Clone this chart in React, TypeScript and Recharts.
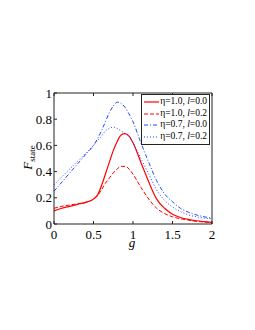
import React from 'react';
import { LineChart, Line, XAxis, YAxis, Legend } from 'recharts';

const gValues = [0, 0.1, 0.2, 0.3, 0.4, 0.5, 0.55, 0.6, 0.65, 0.7, 0.75, 0.8, 0.85, 0.9, 0.95, 1.0, 1.1, 1.2, 1.3, 1.4, 1.5, 1.6, 1.7, 1.8, 1.9, 2.0];

const eta10l00 = [0.1, 0.12, 0.135, 0.15, 0.165, 0.19, 0.22, 0.29, 0.38, 0.47, 0.56, 0.63, 0.68, 0.69, 0.67, 0.62, 0.47, 0.32, 0.19, 0.12, 0.075, 0.05, 0.035, 0.025, 0.018, 0.012];
const eta10l02 = [0.12, 0.135, 0.145, 0.155, 0.165, 0.19, 0.215, 0.26, 0.31, 0.35, 0.39, 0.42, 0.44, 0.44, 0.42, 0.38, 0.28, 0.19, 0.12, 0.08, 0.055, 0.04, 0.03, 0.02, 0.015, 0.01];
const eta07l00 = [0.25, 0.32, 0.39, 0.46, 0.53, 0.6, 0.65, 0.71, 0.78, 0.85, 0.9, 0.93, 0.92, 0.89, 0.84, 0.78, 0.62, 0.47, 0.33, 0.23, 0.17, 0.12, 0.09, 0.07, 0.055, 0.045];
const eta07l02 = [0.3, 0.36, 0.42, 0.48, 0.54, 0.6, 0.635, 0.67, 0.71, 0.73, 0.74, 0.73, 0.71, 0.69, 0.67, 0.62, 0.5, 0.38, 0.26, 0.18, 0.13, 0.095, 0.07, 0.055, 0.045, 0.04];

const xTicks = [0, 0.5, 1, 1.5, 2];
const yTicks = [0, 0.2, 0.4, 0.6, 0.8, 1];

const data = gValues.map((g, i) => ({
  g,
  a: eta10l00[i],
  b: eta10l02[i],
  c: eta07l00[i],
  d: eta07l02[i],
}));

const series = [
  { key: 'a', eta: '1.0', l: '0.0', color: '#ff0000', dash: undefined, width: 1.2 },
  { key: 'b', eta: '1.0', l: '0.2', color: '#ff0000', dash: '4 2', width: 1 },
  { key: 'c', eta: '0.7', l: '0.0', color: '#2046ff', dash: '4 2 1 2', width: 1 },
  { key: 'd', eta: '0.7', l: '0.2', color: '#2046ff', dash: '1 2', width: 1 },
];

const FONT = '"Liberation Serif", "Times New Roman", serif';
const AXIS = '#222';

const renderLegend = () => (
  <div
    style={{
      border: `1px solid ${AXIS}`,
      background: '#fff',
      padding: '1px 2px',
      fontFamily: FONT,
      fontSize: 9.5,
      lineHeight: '11.7px',
      color: '#000',
      boxSizing: 'border-box',
      width: 69,
    }}
  >
    {series.map((s) => (
      <div key={s.key} style={{ display: 'flex', alignItems: 'center', whiteSpace: 'nowrap' }}>
        <svg width={16} height={6} style={{ marginRight: 1 }}>
          <line x1={0} y1={3} x2={16} y2={3} stroke={s.color} strokeWidth={s.width} strokeDasharray={s.dash} />
        </svg>
        <span>
          η={s.eta}, <i>l</i>={s.l}
        </span>
      </div>
    ))}
  </div>
);

const GLabel = ({ viewBox }: any) => (
  <text
    x={viewBox.x + viewBox.width / 2 - 1}
    y={viewBox.y + 23}
    textAnchor="middle"
    fontFamily={FONT}
    fontStyle="italic"
    fontSize={13}
    fill="#000"
  >
    g
  </text>
);

const FLabel = ({ viewBox }: any) => {
  const cx = 32;
  const cy = viewBox.y + viewBox.height / 2 - 1;
  return (
    <text
      x={cx}
      y={cy}
      transform={`rotate(-90, ${cx}, ${cy})`}
      textAnchor="middle"
      fontFamily={FONT}
      fontSize={13}
      fill="#000"
    >
      <tspan fontStyle="italic">F</tspan>
      <tspan fontSize={9} dy={3}>state</tspan>
    </text>
  );
};

export default function App() {
  const tickStyle = { fontFamily: FONT, fontSize: 13, fill: '#000' };
  return (
    <div style={{ position: 'absolute', left: 0, top: 0, width: 255, height: 330, background: '#fff' }}>
      <LineChart width={255} height={330} data={data} margin={{ top: 92, right: 42, bottom: 76, left: 0 }}>
        <XAxis
          dataKey="g"
          type="number"
          domain={[0, 2]}
          ticks={xTicks}
          tickSize={-3}
          tickMargin={9}
          height={30}
          stroke={AXIS}
          tick={tickStyle}
          interval={0}
          label={<GLabel />}
        />
        <XAxis
          xAxisId="top"
          orientation="top"
          dataKey="g"
          type="number"
          domain={[0, 2]}
          ticks={xTicks}
          tickSize={-3}
          height={1}
          stroke={AXIS}
          tickFormatter={() => ''}
        />
        <YAxis
          type="number"
          domain={[0, 1]}
          ticks={yTicks}
          tickSize={-3}
          tickMargin={5}
          width={54}
          stroke={AXIS}
          tick={tickStyle}
          interval={0}
          label={<FLabel />}
        />
        <YAxis
          yAxisId="right"
          orientation="right"
          type="number"
          domain={[0, 1]}
          ticks={yTicks}
          tickSize={-3}
          width={1}
          stroke={AXIS}
          tickFormatter={() => ''}
        />
        {series.map((s) => (
          <Line
            key={s.key}
            dataKey={s.key}
            type="monotone"
            stroke={s.color}
            strokeWidth={s.width}
            strokeDasharray={s.dash}
            dot={false}
            isAnimationActive={false}
          />
        ))}
        <Legend
          layout="horizontal"
          verticalAlign="middle"
          align="center"
          content={renderLegend}
          wrapperStyle={{ left: 141, top: 94, width: 69 }}
        />
      </LineChart>
    </div>
  );
}
